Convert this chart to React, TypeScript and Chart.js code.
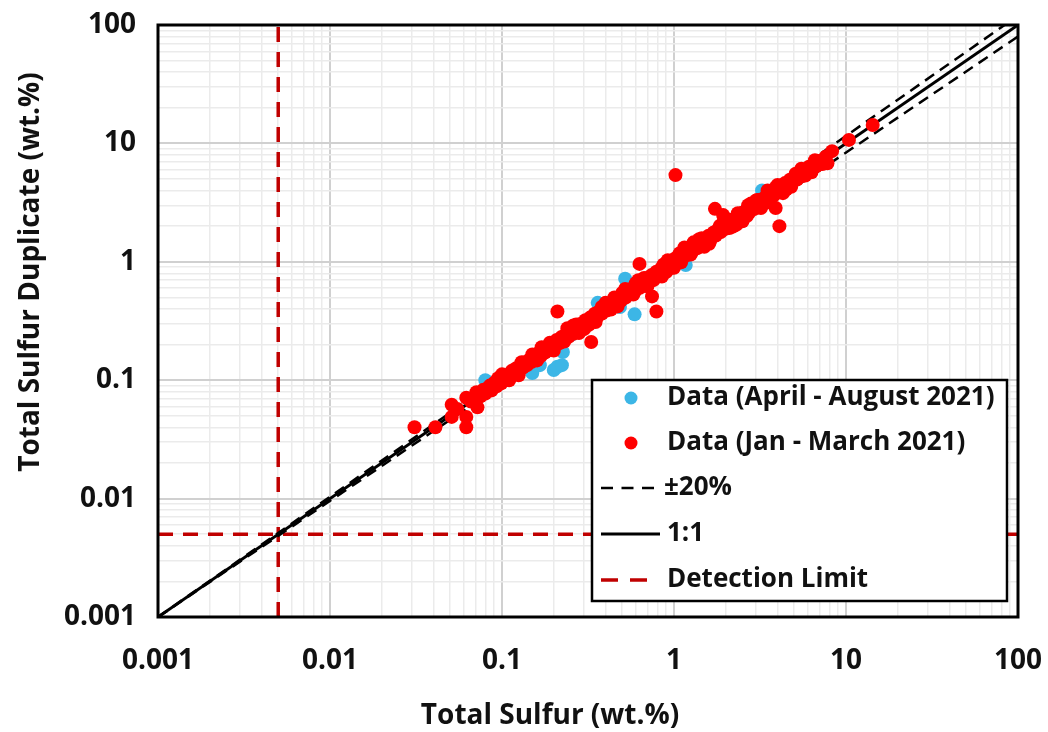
import React, { useEffect, useRef } from "react";
import { Chart, registerables } from "chart.js";

Chart.register(...registerables);

// ---- Data ----
const RED_X = [
  0.031, 0.041, 0.051, 0.051, 0.055, 0.062, 0.062, 0.062, 0.066, 0.071, 0.072, 0.075,
  0.078, 0.080, 0.083, 0.085, 0.087, 0.090, 0.093, 0.096, 0.099, 0.102, 0.105, 0.108,
  0.111, 0.114, 0.117, 0.121, 0.124, 0.128, 0.132, 0.136, 0.140, 0.145, 0.149, 0.154,
  0.158, 0.163, 0.168, 0.173, 0.178, 0.184, 0.190, 0.196, 0.202, 0.208, 0.215, 0.222,
  0.229, 0.236, 0.244, 0.252, 0.260, 0.268, 0.277, 0.286, 0.295, 0.305, 0.315, 0.325,
  0.335, 0.346, 0.357, 0.369, 0.381, 0.393, 0.406, 0.419, 0.432, 0.446, 0.461, 0.476,
  0.491, 0.507, 0.523, 0.540, 0.557, 0.575, 0.594, 0.613, 0.633, 0.653, 0.674, 0.696,
  0.718, 0.741, 0.765, 0.790, 0.815, 0.842, 0.869, 0.897, 0.926, 0.956, 0.987, 1.02,
  1.05, 1.09, 1.12, 1.16, 1.19, 1.23, 1.27, 1.31, 1.36, 1.40, 1.45, 1.49,
  1.54, 1.59, 1.64, 1.70, 1.75, 1.81, 1.87, 1.93, 1.99, 2.05, 2.12, 2.19,
  2.26, 2.33, 2.41, 2.49, 2.57, 2.65, 2.74, 2.83, 2.92, 3.01, 3.11, 3.21,
  3.32, 3.42, 3.53, 3.65, 3.77, 3.89, 4.02, 4.15, 4.28, 4.42, 4.57, 4.72,
  4.87, 5.03, 5.19, 5.36, 5.53, 5.71, 5.90, 6.09, 6.29, 6.49, 6.70, 6.92,
  7.15, 7.60,
  0.12, 0.18, 0.25, 0.37, 0.55, 0.8, 1.2, 1.7, 2.5, 3.6, 5.0,
  0.15, 0.28, 0.45, 0.9, 1.4, 2.2, 3.0, 4.5, 0.6, 1.1, 2.8,
  0.095, 0.11, 0.13, 0.16, 0.19, 0.23, 0.27, 0.32, 0.38, 0.43, 0.5, 0.58,
  0.67, 0.76, 0.87, 0.97, 1.08, 1.25, 1.45, 1.62, 1.85, 2.1, 2.35, 2.65,
  3.05, 3.4, 3.9, 4.4, 5.1, 5.8, 6.6, 7.3,
  0.1, 0.125, 0.17, 0.2, 0.26, 0.3, 0.4, 0.47, 0.62, 0.7, 0.92, 1.0,
  1.3, 1.5, 1.95, 2.3, 2.7, 3.2, 4.0, 4.8, 5.5, 6.3,
  0.24, 0.35, 0.52, 0.85, 1.15, 1.6, 2.0, 2.5, 3.5, 4.3,
  1.02, 1.73, 1.93, 3.9, 4.1, 0.63, 0.745, 0.79, 0.21, 0.33, 7.8, 10.4, 14.3, 8.3,
];
const RED_Y = [
  0.040, 0.040, 0.062, 0.049, 0.057, 0.071, 0.049, 0.040, 0.066, 0.079, 0.059, 0.073,
  0.083, 0.077, 0.086, 0.090, 0.082, 0.095, 0.089, 0.101, 0.094, 0.108, 0.100, 0.111,
  0.104, 0.120, 0.113, 0.126, 0.118, 0.134, 0.127, 0.142, 0.134, 0.150, 0.143, 0.161,
  0.151, 0.170, 0.160, 0.180, 0.171, 0.193, 0.181, 0.204, 0.193, 0.219, 0.205, 0.232,
  0.218, 0.247, 0.233, 0.262, 0.247, 0.283, 0.264, 0.298, 0.281, 0.321, 0.300, 0.338,
  0.322, 0.364, 0.340, 0.382, 0.366, 0.411, 0.387, 0.436, 0.414, 0.467, 0.441, 0.495,
  0.469, 0.532, 0.499, 0.563, 0.534, 0.602, 0.567, 0.641, 0.604, 0.679, 0.646, 0.728,
  0.685, 0.772, 0.733, 0.826, 0.779, 0.877, 0.831, 0.936, 0.884, 0.997, 0.944, 1.07,
  1.00, 1.14, 1.07, 1.21, 1.14, 1.29, 1.21, 1.37, 1.30, 1.46, 1.38, 1.56,
  1.47, 1.66, 1.57, 1.77, 1.67, 1.89, 1.78, 2.01, 1.90, 2.15, 2.02, 2.28,
  2.16, 2.44, 2.30, 2.60, 2.45, 2.77, 2.61, 2.95, 2.79, 3.15, 2.97, 3.36,
  3.17, 3.57, 3.37, 3.81, 3.60, 4.06, 3.84, 4.34, 4.09, 4.62, 4.36, 4.93,
  4.65, 5.25, 4.96, 5.60, 5.28, 5.97, 5.63, 6.36, 6.00, 6.78, 6.40, 7.10,
  6.85, 7.70,
  0.122, 0.177, 0.255, 0.372, 0.548, 0.805, 1.19, 1.71, 2.52, 3.58, 5.05,
  0.165, 0.25, 0.5, 0.82, 1.55, 1.98, 3.3, 4.1, 0.66, 0.99, 3.1,
  0.104, 0.100, 0.142, 0.147, 0.207, 0.212, 0.295, 0.293, 0.415, 0.395, 0.545, 0.53,
  0.73, 0.70, 0.95, 0.89, 1.18, 1.15, 1.58, 1.49, 2.02, 1.93, 2.57, 2.44,
  3.33, 3.13, 4.25, 4.05, 5.55, 5.35, 7.2, 6.7,
  0.112, 0.11, 0.19, 0.178, 0.29, 0.27, 0.45, 0.42, 0.7, 0.62, 1.03, 0.89,
  1.46, 1.34, 2.2, 2.05, 3.0, 2.85, 4.45, 4.3, 6.1, 5.7,
  0.275, 0.31, 0.59, 0.75, 1.32, 1.42, 2.3, 2.2, 4.0, 3.8,
  5.4, 2.8, 2.48, 2.85, 2.0, 0.96, 0.51, 0.38, 0.38, 0.21, 6.8, 10.7, 14.3, 8.6,
];
const BLUE_X = [
  0.08, 0.085, 0.1, 0.12, 0.14, 0.15, 0.166, 0.18, 0.2, 0.21, 0.223, 0.226,
  0.25, 0.3, 0.36, 0.4, 0.485, 0.5, 0.52, 0.55, 0.59, 0.7, 0.85, 1.0,
  1.17, 1.5, 2.0, 2.6, 3.25, 3.5, 4.2, 5.0,
];
const BLUE_Y = [
  0.1, 0.083, 0.098, 0.117, 0.138, 0.115, 0.134, 0.176, 0.122, 0.13, 0.134, 0.173,
  0.24, 0.29, 0.45, 0.39, 0.415, 0.48, 0.72, 0.64, 0.36, 0.68, 0.83, 0.97,
  0.94, 1.46, 1.95, 2.55, 4.0, 3.45, 4.1, 4.9,
];
// reference lines: [x0, x1], [y0, y1]
const LINE_X = [0.001, 100];
const ONE_TO_ONE_Y = [0.001, 100];
const PLUS20_Y = [0.001, 120];
const MINUS20_Y = [0.001, 80];
const DETECTION_LIMIT = 0.005;
const AXIS_MIN = 0.001;
const AXIS_MAX = 100;
const MAJOR_TICKS = [0.001, 0.01, 0.1, 1, 10, 100];
const MINOR_STEPS = [2, 3, 4, 5, 6, 7, 8, 9];

const LEGEND_LABELS = [
  "Data (April - August 2021)",
  "Data (Jan - March 2021)",
  "±20%",
  "1:1",
  "Detection Limit",
];
const X_TITLE = "Total Sulfur (wt.%)";
const Y_TITLE = "Total Sulfur Duplicate (wt.%)";

const BLUE = "#3cb6e6";
const RED = "#ff0000";
const DARK_RED = "#c00000";
const FONT = "'Open Sans', Lato, sans-serif";

const zip = (xs: number[], ys: number[]) => xs.map((x, i) => ({ x, y: ys[i] }));

const isMajor = (v: number) => {
  const l = Math.log10(v);
  return Math.abs(l - Math.round(l)) < 1e-9;
};

const buildTicks = (scale: any) => {
  const t: any[] = [];
  for (let i = 0; i < MAJOR_TICKS.length; i++) {
    const m = MAJOR_TICKS[i];
    t.push({ value: m, major: true });
    if (i < MAJOR_TICKS.length - 1) {
      for (const s of MINOR_STEPS) t.push({ value: +(m * s).toPrecision(6), major: false });
    }
  }
  scale.ticks = t;
};

const overlayPlugin = {
  id: "overlay",
  afterDraw(chart: any) {
    const { ctx, chartArea } = chart;
    const { left, right, top, bottom } = chartArea;
    ctx.save();
    // plot border
    ctx.strokeStyle = "#000";
    ctx.lineWidth = 3;
    ctx.setLineDash([]);
    ctx.strokeRect(left, top, right - left, bottom - top);

    // legend box
    const bx = 592, by = 380, bw = 415, bh = 221;
    ctx.fillStyle = "#fff";
    ctx.fillRect(bx, by, bw, bh);
    ctx.lineWidth = 2.5;
    ctx.strokeStyle = "#000";
    ctx.strokeRect(bx, by, bw, bh);

    const rows = [398, 443, 488, 534, 580];
    // markers
    ctx.fillStyle = BLUE;
    ctx.beginPath();
    ctx.arc(631, rows[0], 6.5, 0, Math.PI * 2);
    ctx.fill();
    ctx.fillStyle = RED;
    ctx.beginPath();
    ctx.arc(631, rows[1], 6.5, 0, Math.PI * 2);
    ctx.fill();
    // ±20%
    ctx.strokeStyle = "#000";
    ctx.lineWidth = 2.5;
    ctx.setLineDash([12, 8.5]);
    ctx.beginPath();
    ctx.moveTo(601, rows[2]);
    ctx.lineTo(661, rows[2]);
    ctx.stroke();
    // 1:1
    ctx.setLineDash([]);
    ctx.lineWidth = 3;
    ctx.beginPath();
    ctx.moveTo(601, rows[3]);
    ctx.lineTo(660, rows[3]);
    ctx.stroke();
    // detection limit
    ctx.strokeStyle = DARK_RED;
    ctx.lineWidth = 3.5;
    ctx.setLineDash([17, 12]);
    ctx.beginPath();
    ctx.moveTo(601, rows[4]);
    ctx.lineTo(648, rows[4]);
    ctx.stroke();
    ctx.setLineDash([]);

    ctx.fillStyle = "#111";
    ctx.font = `bold 26px ${FONT}`;
    ctx.textAlign = "left";
    ctx.textBaseline = "middle";
    const tx = [667, 667, 664, 667, 667];
    LEGEND_LABELS.forEach((l, i) => ctx.fillText(l, tx[i], rows[i]));

    // axis titles
    ctx.font = `bold 28px ${FONT}`;
    ctx.textAlign = "center";
    ctx.textBaseline = "middle";
    ctx.fillText(X_TITLE, 550, 716);
    ctx.translate(31, 272);
    ctx.rotate(-Math.PI / 2);
    ctx.fillText(Y_TITLE, 0, 0);
    ctx.restore();
  },
};

const gridColor = (c: any) => (c.tick && isMajor(c.tick.value) ? "#d0d0d0" : "#ebebeb");
const gridWidth = (c: any) => (c.tick && isMajor(c.tick.value) ? 2 : 1.5);

export default function App() {
  const ref = useRef<HTMLCanvasElement>(null);
  useEffect(() => {
    if (!ref.current) return;
    const lineDs = (ys: number[], color: string, width: number, dash: number[], xs = LINE_X) => ({
      type: "line" as const,
      data: zip(xs, ys),
      borderColor: color,
      borderWidth: width,
      borderDash: dash,
      pointRadius: 0,
      showLine: true,
      fill: false,
      order: 3,
    });
    const chart = new Chart(ref.current, {
      type: "scatter",
      data: {
        datasets: [
          {
            label: LEGEND_LABELS[1],
            data: zip(RED_X, RED_Y),
            backgroundColor: RED,
            borderWidth: 0,
            pointRadius: 7,
            order: 1,
          },
          {
            label: LEGEND_LABELS[0],
            data: zip(BLUE_X, BLUE_Y),
            backgroundColor: BLUE,
            borderWidth: 0,
            pointRadius: 7,
            order: 2,
          },
          lineDs(PLUS20_Y, "#000", 2.5, [11, 7]) as any,
          lineDs(MINUS20_Y, "#000", 2.5, [11, 7]) as any,
          lineDs(ONE_TO_ONE_Y, "#000", 3, []) as any,
          lineDs([AXIS_MIN, AXIS_MAX], DARK_RED, 3.5, [15, 10], [DETECTION_LIMIT, DETECTION_LIMIT]) as any,
          lineDs([DETECTION_LIMIT, DETECTION_LIMIT], DARK_RED, 3.5, [15, 10], [AXIS_MIN, AXIS_MAX]) as any,
        ],
      },
      options: {
        animation: false,
        responsive: false,
        devicePixelRatio: 1,
        events: [],
        layout: { padding: { left: 0, top: 25, right: 30, bottom: 0 } },
        plugins: { legend: { display: false }, tooltip: { enabled: false } },
        scales: {
          x: {
            type: "logarithmic",
            min: AXIS_MIN,
            max: AXIS_MAX,
            afterBuildTicks: buildTicks,
            afterFit: (s: any) => {
              s.height = 115;
              s.paddingLeft = 0;
              s.paddingRight = 0;
            },
            border: { display: false },
            grid: { color: gridColor, lineWidth: gridWidth, drawTicks: false },
            ticks: {
              autoSkip: false,
              maxRotation: 0,
              padding: 27,
              color: "#111",
              font: { family: FONT, size: 28, weight: "bold" },
              callback: (v: any) => (isMajor(Number(v)) ? String(Number(v)) : ""),
            },
          },
          y: {
            type: "logarithmic",
            min: AXIS_MIN,
            max: AXIS_MAX,
            afterBuildTicks: buildTicks,
            afterFit: (s: any) => {
              s.width = 158;
              s.paddingTop = 0;
              s.paddingBottom = 0;
            },
            border: { display: false },
            grid: { color: gridColor, lineWidth: gridWidth, drawTicks: false },
            ticks: {
              autoSkip: false,
              padding: 22,
              color: "#111",
              font: { family: FONT, size: 28, weight: "bold" },
              callback: (v: any) => (isMajor(Number(v)) ? String(Number(v)) : ""),
            },
          },
        },
      },
      plugins: [overlayPlugin],
    } as any);
    return () => chart.destroy();
  }, []);
  return (
    <div style={{ position: "absolute", left: 0, top: 0, width: 1048, height: 732, background: "#fff" }}>
      <canvas ref={ref} width={1048} height={732} style={{ width: 1048, height: 732 }} />
    </div>
  );
}
